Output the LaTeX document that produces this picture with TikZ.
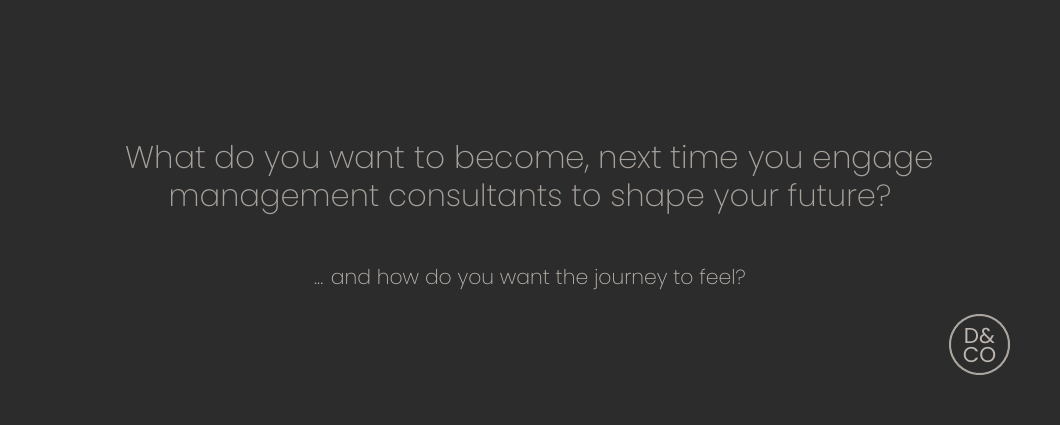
\documentclass[tikz,border=0pt]{standalone}
\usepackage{fontspec}
\setmainfont{Poppins ExtraLight}
\newfontfamily\logofont{Poppins Regular}
\definecolor{bg}{HTML}{2C2C2C}
\definecolor{head}{HTML}{A8A29D}
\definecolor{sub}{HTML}{BDB6B0}
\begin{document}
\begin{tikzpicture}[x=1pt,y=-1pt]
\useasboundingbox[fill=bg] (0,0) rectangle (1060,425);
\node[text=head,font=\fontsize{31.2}{38}\selectfont,align=center] (h) at (530,180) {What do you want to become, next time you engage\\\fontsize{30.6}{38}\selectfont management consultants to shape your future?};
\node[text=sub,font=\fontsize{20.4}{25}\selectfont] (s) at (530,279) {... and how do you want the journey to feel?};
\node[circle,draw=sub!90!black,line width=2pt,minimum size=59pt,inner sep=0pt] (l) at (979.5,344.5) {};
\node[text=sub,font=\logofont\fontsize{21.5}{19}\selectfont,align=center] (t) at (979.5,345.5) {D\&\\CO};
\end{tikzpicture}
\end{document}
